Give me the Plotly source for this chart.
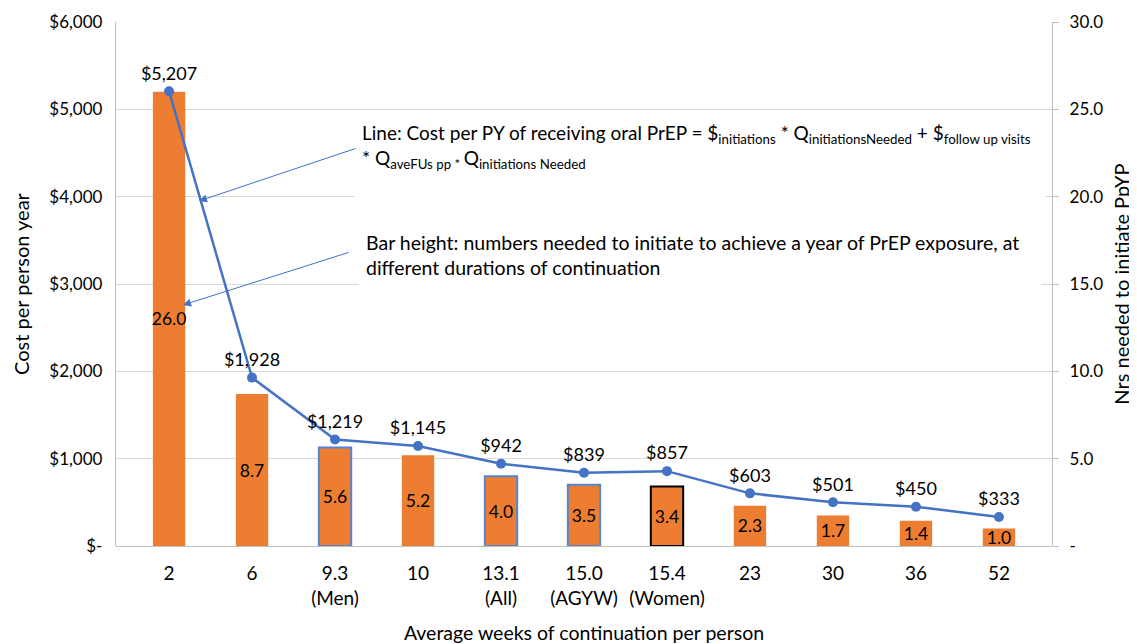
import plotly.graph_objects as go

categories = ["2", "6", "9.3<br>(Men)", "10", "13.1<br>(All)", "15.0<br>(AGYW)",
              "15.4<br>(Women)", "23", "30", "36", "52"]
nrs_needed = [26.0, 8.7, 5.64, 5.2, 4.0, 3.5, 3.4, 2.3, 1.74, 1.44, 1.0]
cost_per_py = [5207, 1928, 1219, 1145, 942, 839, 857, 603, 501, 450, 333]
outline_colors = ["rgba(0,0,0,0)", "rgba(0,0,0,0)", "#5584D0", "rgba(0,0,0,0)", "#5584D0",
                  "#5584D0", "#000000", "rgba(0,0,0,0)", "rgba(0,0,0,0)", "rgba(0,0,0,0)",
                  "rgba(0,0,0,0)"]
outline_widths = [0, 0, 2, 0, 2, 2, 2, 0, 0, 0, 0]

left_tickvals = [0, 1000, 2000, 3000, 4000, 5000, 6000]
left_ticktext = ["$-", "$1,000", "$2,000", "$3,000", "$4,000", "$5,000", "$6,000"]
right_tickvals = [0, 5, 10, 15, 20, 25, 30]
right_ticktext = ["-", "5.0", "10.0", "15.0", "20.0", "25.0", "30.0"]

FONT = "Lato, Carlito, 'Open Sans', sans-serif"
ORANGE = "#ED7D31"
BLUE = "#4472C4"

# page body has an 8px default margin; plot area target (window px): x 116-1052, y 22-546
OFF = 8
L, T = 116 - OFF, 22 - OFF
PW, PH = 936, 524
W, H = 1137 - OFF, 644 - OFF


def px(xw):
    return (xw - 116) / PW


def py(yw):
    return (546 - yw) / PH


fig = go.Figure()

fig.add_trace(go.Bar(
    x=categories, y=nrs_needed, yaxis="y",
    marker=dict(color=ORANGE, line=dict(color=outline_colors, width=outline_widths)),
    text=[f"{v:.1f}" for v in nrs_needed],
    textposition="inside", insidetextanchor="middle", textangle=0,
    constraintext="none",
    insidetextfont=dict(family=FONT, size=17.5, color="#000000"),
    showlegend=False, hoverinfo="skip",
))

fig.add_trace(go.Scatter(
    x=categories, y=cost_per_py, yaxis="y2",
    mode="lines+markers+text",
    line=dict(color=BLUE, width=2.5),
    marker=dict(color=BLUE, size=10),
    text=[f"${v:,}" for v in cost_per_py],
    textposition="top center",
    textfont=dict(family=FONT, size=18, color="#000000"),
    cliponaxis=False,
    showlegend=False, hoverinfo="skip",
))

ann_text1 = ("Line: Cost per PY of receiving oral PrEP = $<sub>initiations</sub> * "
             "Q<sub>initiationsNeeded</sub> + $<sub>follow up visits</sub><br>"
             "* Q<sub>aveFUs pp</sub><sub> * </sub>Q<sub>initiations Needed</sub>")
ann_text2 = ("Bar height: numbers needed to initiate to achieve a year of PrEP exposure, at<br>"
             "different durations of continuation")

annotations = [
    dict(xref="paper", yref="paper", x=px(354), y=py(113),
         xanchor="left", yanchor="top", text=ann_text1, showarrow=False, align="left",
         bgcolor="white", width=676, height=72, valign="top", borderpad=7,
         font=dict(family=FONT, size=19, color="#000000")),
    dict(xref="paper", yref="paper", x=px(358), y=py(223),
         xanchor="left", yanchor="top", text=ann_text2, showarrow=False, align="left",
         bgcolor="white", width=668, height=56, valign="top", borderpad=7,
         font=dict(family=FONT, size=19.5, color="#000000")),
    dict(xref="paper", yref="paper", x=px(199), y=py(201),
         axref="pixel", ayref="pixel", ax=158, ay=-53, text="", showarrow=True,
         arrowhead=2, arrowsize=1.6, arrowwidth=1, arrowcolor=BLUE),
    dict(xref="paper", yref="paper", x=px(183), y=py(305),
         axref="pixel", ayref="pixel", ax=167, ay=-53, text="", showarrow=True,
         arrowhead=2, arrowsize=1.6, arrowwidth=1, arrowcolor=BLUE),
]

fig.update_layout(
    width=W, height=H,
    margin=dict(l=L, r=W - L - PW, t=T, b=H - T - PH, autoexpand=False),
    paper_bgcolor="white", plot_bgcolor="white",
    font=dict(family=FONT, size=17, color="#000000"),
    bargap=0.61,
    annotations=annotations,
    xaxis=dict(
        title=dict(text="Average weeks of continuation per person",
                   font=dict(family=FONT, size=19.5), standoff=20),
        tickfont=dict(family=FONT, size=19),
        showline=False, showgrid=False, ticks="", ticklabelstandoff=14,
        automargin=False,
    ),
    yaxis=dict(
        side="right", range=[0, 30], tickvals=right_tickvals, ticktext=right_ticktext,
        showgrid=True, gridcolor="#D9D9D9", gridwidth=1.3,
        showline=True, linecolor="#BFBFBF", linewidth=1.3,
        ticks="outside", ticklen=6, tickcolor="#BFBFBF",
        zeroline=True, zerolinecolor="#BFBFBF", zerolinewidth=1.3,
        tickfont=dict(family=FONT, size=17), ticklabelstandoff=7,
        title=dict(text="Nrs needed to initiate PpYP", font=dict(family=FONT, size=20),
                   standoff=12),
        automargin=False,
    ),
    yaxis2=dict(
        side="left", overlaying="y", range=[0, 6000],
        tickvals=left_tickvals, ticktext=left_ticktext,
        showgrid=False, showline=True, linecolor="#BFBFBF", linewidth=1.3,
        zeroline=False, ticks="", ticklabelstandoff=9,
        tickfont=dict(family=FONT, size=17),
        title=dict(text="Cost per person year", font=dict(family=FONT, size=20),
                   standoff=14),
        automargin=False,
    ),
)

fig.write_html("out.html")
